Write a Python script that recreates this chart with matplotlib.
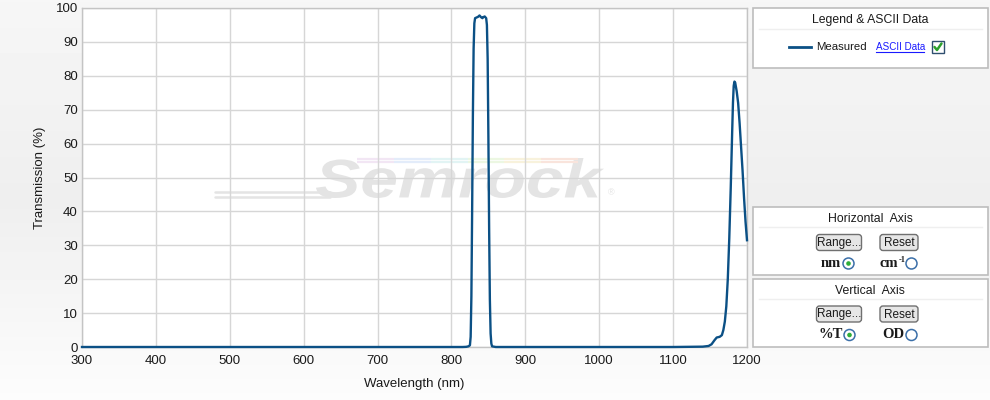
import numpy as np
import matplotlib
matplotlib.use("Agg")
import matplotlib.pyplot as plt
from matplotlib.patches import Rectangle, FancyBboxPatch, Circle, PathPatch
from matplotlib.collections import LineCollection
from matplotlib.textpath import TextPath
from matplotlib.font_manager import FontProperties
from matplotlib.transforms import Affine2D

# ---------------- data ----------------
wavelength_nm = [300, 400, 500, 600, 700, 800, 815, 820, 823, 825, 826, 827, 828, 829, 830,
                 831, 832, 834, 836, 838, 840, 842, 843, 845, 847, 848, 849, 850, 851, 852,
                 853, 854, 855, 860, 900, 1000, 1100, 1140, 1148, 1152, 1156, 1159, 1163,
                 1166, 1168, 1170, 1172, 1174, 1176, 1178, 1180, 1181, 1182, 1183, 1184,
                 1186, 1188, 1190, 1192, 1194, 1196, 1198, 1200]
transmission_pct = [0.0, 0.0, 0.0, 0.0, 0.0, 0.0, 0.0, 0.05, 0.2, 0.5, 3, 15, 40, 68, 88,
                    95.5, 97.0, 97.2, 97.4, 97.8, 97.3, 97.0, 97.3, 97.5, 97.0, 95.0, 85, 62,
                    35, 14, 4, 1, 0.2, 0.0, 0.0, 0.0, 0.0, 0.1, 0.3, 0.8, 2.0, 2.8, 3.0,
                    3.5, 5.0, 7.5, 12, 20, 32, 47, 64, 72, 77, 78.3, 78.0,
                    75.5, 72, 66, 59, 52, 44, 37, 31.5]
x_ticks = [300, 400, 500, 600, 700, 800, 900, 1000, 1100, 1200]
y_ticks = [0, 10, 20, 30, 40, 50, 60, 70, 80, 90, 100]
series_name = "Measured"

# ---------------- styles ----------------
W, H = 990, 400
LINE_C = "#0b5085"
TXT_C = "#1a1a1a"
SANS = ["Liberation Sans", "DejaVu Sans"]
SERIF = ["Liberation Serif", "DejaVu Serif"]
plt.rcParams["font.family"] = SANS

fig = plt.figure(figsize=(W / 100, H / 100), dpi=100)

# background gradient
bg = fig.add_axes([0, 0, 1, 1], zorder=-10)
grad = np.interp(np.linspace(0, 1, 400), [0, 0.5, 1], [0.965, 0.935, 0.99])
bg.imshow(np.repeat(grad[:, None], 2, axis=1), cmap="gray", vmin=0, vmax=1,
          aspect="auto", extent=[0, 1, 0, 1], origin="upper")
bg.set_axis_off()

# overlay in pixel coordinates
ov = fig.add_axes([0, 0, 1, 1], zorder=5)
ov.set_xlim(0, W)
ov.set_ylim(H, 0)
ov.set_axis_off()
ov.patch.set_alpha(0)

# main axes
L, R, T, B = 82, 747, 8, 347
ax = fig.add_axes([L / W, 1 - B / H, (R - L) / W, (B - T) / H], zorder=1)
ax.set_facecolor("white")
ax.set_xlim(300, 1200)
ax.set_ylim(0, 100)
ax.set_xticks(x_ticks)
ax.set_yticks(y_ticks)
ax.grid(True, color="#d6d6d6", lw=1)
ax.set_axisbelow(True)
for s in ax.spines.values():
    s.set_color("#c4c4c4")
    s.set_linewidth(1)
ax.tick_params(length=0, labelsize=9.5, colors=TXT_C, pad=3)
ax.tick_params(axis="x", pad=6)
ax.set_xlabel("Wavelength (nm)", fontsize=9.5, color=TXT_C, labelpad=8)
ax.set_ylabel("Transmission (%)", fontsize=9.5, color=TXT_C, labelpad=7)

ax.plot(wavelength_nm, transmission_pct, color=LINE_C, lw=1.7, zorder=3,
        clip_on=False, solid_joinstyle="round")

# watermark (text path stretched to the logo's box)
fp = FontProperties(family="Liberation Sans", weight="bold", style="italic")
tp = TextPath((0, 0), "Semrock", size=10, prop=fp)
bb = tp.get_extents()
x0, x1, yt, yb = 316, 604, 158, 198
tr = (Affine2D().translate(-bb.x0, -bb.y0)
      .scale((x1 - x0) / bb.width, -(yb - yt) / bb.height)
      .translate(x0, yb))
ax.add_patch(PathPatch(tr.transform_path(tp), facecolor="#e4e4e4", edgecolor="none",
                       transform=ov.transData, zorder=0.2))
ax.text(611, 193, "®", transform=ov.transData, fontsize=6.5, color="#e2e2e2",
        ha="center", va="center", zorder=0.2)
for yy in (191.5, 196.5):
    ax.plot([215, 330], [yy, yy], transform=ov.transData, color="#e4e4e4", lw=1.8,
            zorder=0.2, solid_capstyle="round")
rain = ["#f2e6f4", "#e3ecfa", "#e2f4f4", "#ecf7e2", "#f8f2dc", "#f9e4dc"]
for yy in (158.5, 161.5):
    xs = np.linspace(357, 578, 7)
    segs = [[(xs[i], yy), (xs[i + 1], yy)] for i in range(6)]
    lc = LineCollection(segs, colors=rain, lw=1.6, transform=ov.transData, zorder=0.2)
    ax.add_collection(lc)

# ---------------- side panels ----------------
PX0, PX1 = 752.5, 987.5
def panel(y0, y1, title, ty):
    ov.add_patch(Rectangle((PX0, y0), PX1 - PX0, y1 - y0, facecolor="white",
                           edgecolor="#bdbdbd", lw=1.2))
    ov.text((PX0 + PX1) / 2, ty, title, ha="center", va="center", fontsize=8.8,
            color=TXT_C)
    ov.plot([PX0 + 6, PX1 - 6], [ty + 8, ty + 8], color="#efefef", lw=1)

panel(8, 68, "Legend & ASCII Data", 20.5)
ov.plot([789, 811], [46.5, 46.5], color=LINE_C, lw=2)
ov.text(816, 47, series_name, ha="left", va="center", fontsize=8.2, color=TXT_C)
ov.text(876, 46.5, "ASCII Data", ha="left", va="center", fontsize=7.1,
        color="#1a1aff")
ov.plot([876, 923.5], [51.5, 51.5], color="#1a1aff", lw=0.8)
ov.add_patch(Rectangle((931.5, 41), 12, 12, facecolor="white", edgecolor="#2f4f6f", lw=1))
ov.plot([934.5, 937, 941.5], [47, 50, 43.5], color="#2ca02c", lw=1.8,
        solid_capstyle="round", solid_joinstyle="round")

def button(cx, cy, w, label):
    ov.add_patch(FancyBboxPatch((cx - w / 2, cy - 8), w, 16,
                                boxstyle="round,pad=0,rounding_size=3",
                                facecolor="#e6e6e6", edgecolor="#707070", lw=1))
    ov.text(cx, cy + 0.5, label, ha="center", va="center", fontsize=8.5, color=TXT_C)

def radio(cx, cy, on):
    ov.add_patch(Circle((cx, cy), 5.5, facecolor="white", edgecolor="#3b6fa8", lw=1.1))
    if on:
        ov.add_patch(Circle((cx, cy), 2.3, facecolor="#2fae3a", edgecolor="none"))

panel(207, 275, "Horizontal  Axis", 219)
button(839, 242.5, 45, "Range...")
button(899, 242.5, 38, "Reset")
ov.text(841, 263.5, "nm", ha="right", va="center", fontsize=10.5, fontweight="bold",
        family=SERIF, color=TXT_C)
radio(848.5, 263.5, True)
ov.text(880, 263.5, "cm", ha="left", va="center", fontsize=10.5, fontweight="bold",
        family=SERIF, color=TXT_C)
ov.text(898.5, 259.5, "-1", ha="left", va="center", fontsize=6, fontweight="bold",
        family=SERIF, color=TXT_C)
radio(911.5, 263.5, False)

panel(279, 347, "Vertical  Axis", 290.5)
button(839, 314, 45, "Range...")
button(899, 314, 38, "Reset")
ov.text(842.5, 335, "%T", ha="right", va="center", fontsize=10.5, fontweight="bold",
        family=SERIF, color=TXT_C)
radio(849.5, 335, True)
ov.text(904.5, 335, "OD", ha="right", va="center", fontsize=10.5, fontweight="bold",
        family=SERIF, color=TXT_C)
radio(911.5, 335, False)

fig.savefig("out.png", dpi=100)
